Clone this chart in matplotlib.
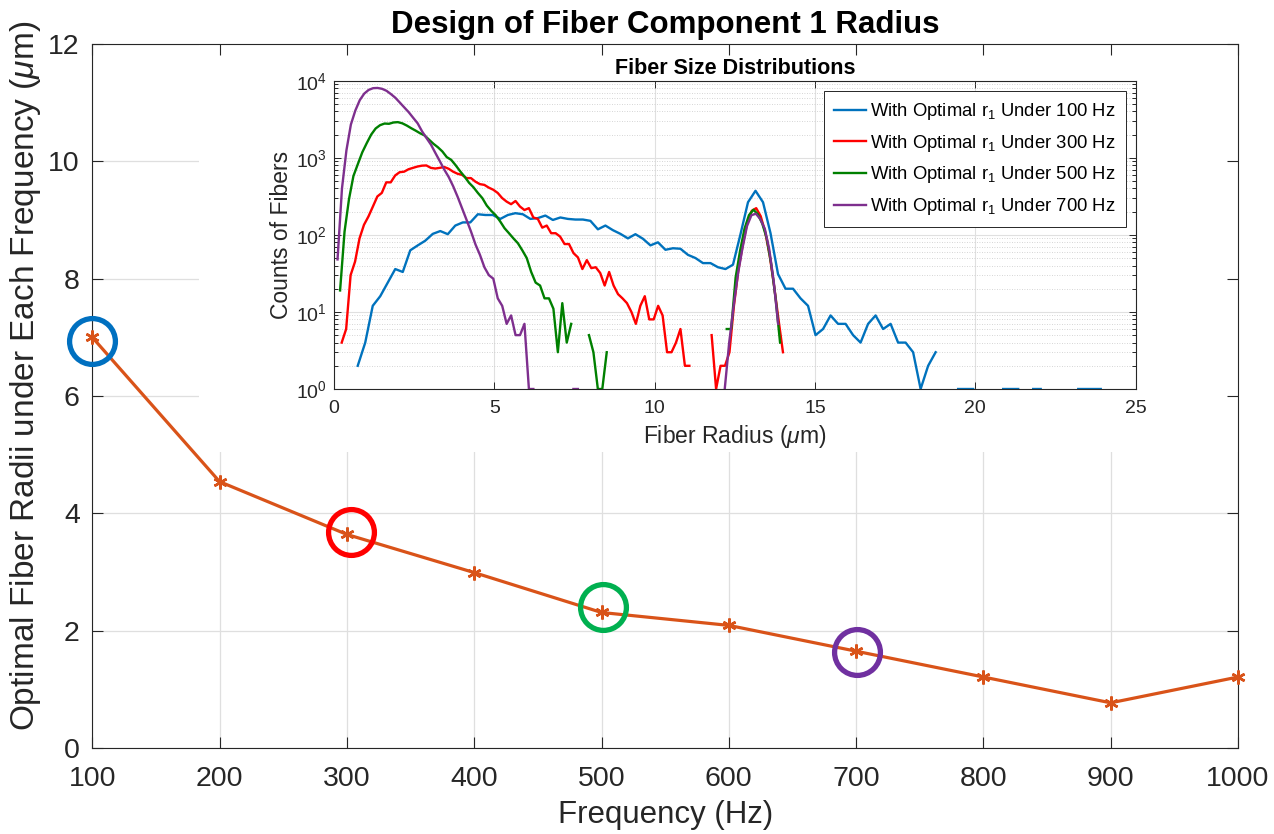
import numpy as np
import matplotlib
matplotlib.use("Agg")
import matplotlib.pyplot as plt
from matplotlib.ticker import LogLocator, NullFormatter

plt.rcParams['font.family'] = ['Liberation Sans', 'DejaVu Sans']
plt.rcParams['mathtext.fontset'] = 'custom'
plt.rcParams['mathtext.rm'] = 'Liberation Sans'
plt.rcParams['mathtext.it'] = 'Liberation Sans:italic'
plt.rcParams['mathtext.bf'] = 'Liberation Sans:bold'

# ---- main curve: optimal fiber radius for each design frequency ----
frequency_hz = [100, 200, 300, 400, 500, 600, 700, 800, 900, 1000]
optimal_radius_um = [7.0, 4.54, 3.64, 2.99, 2.31, 2.09, 1.65, 1.21, 0.77, 1.21]

# highlighted designs (rings drawn around them)
ring_freq = [100, 303, 501, 701]
ring_radius = [6.94, 3.69, 2.40, 1.63]
ring_colors = ['#0070C0', '#FF0000', '#00B050', '#7030A0']

# ---- inset: fiber size histograms (100 bins each, first/last bin centre in um) ----
range_100hz = (0.74, 23.91)
counts_100hz = [
    2, 4, 12, 16, 24, 36, 33, 63, 73, 84,
    103, 112, 102, 132, 145, 145, 185, 181, 181, 161,
    181, 191, 185, 161, 165, 178, 156, 168, 161, 158,
    158, 152, 118, 132, 115, 103, 90, 102, 89, 73,
    80, 64, 67, 66, 55, 50, 43, 43, 38, 36,
    41, 102, 265, 373, 265, 105, 31, 20, 20, 15,
    12, 5, 6, 9, 7, 7, 5, 4, 7, 9,
    6, 7, 4, 4, 3, 1, 2, 3, 0, 0,
    1, 1, 1, 0, 0, 0, 1, 1, 1, 0,
    1, 1, 0, 0, 0, 0, 1, 1, 1, 1,
]

range_300hz = (0.24, 14.0)
counts_300hz = [
    4, 6, 30, 45, 90, 135, 173, 233, 315, 350,
    480, 480, 590, 650, 660, 710, 740, 770, 790, 795,
    740, 725, 740, 760, 720, 660, 620, 600, 545, 545,
    490, 455, 445, 410, 385, 350, 300, 270, 250, 275,
    233, 210, 222, 168, 161, 124, 132, 105, 105, 95,
    76, 76, 58, 51, 36, 47, 37, 38, 32, 22,
    33, 22, 17, 15, 13, 10, 7, 12, 16, 8,
    8, 12, 9, 3, 3, 4, 6, 2, 2, 0,
    0, 0, 0, 5, 1, 2, 2, 3, 12, 35,
    75, 145, 205, 222, 175, 110, 55, 22, 8, 3,
]

range_500hz = (0.19, 13.91)
counts_500hz = [
    19, 110, 290, 580, 830, 1180, 1550, 2000, 2400, 2650,
    2780, 2760, 2870, 2900, 2800, 2620, 2420, 2250, 2080, 1950,
    1720, 1520, 1370, 1210, 1020, 940, 800, 670, 570, 475,
    415, 350, 300, 240, 205, 180, 150, 122, 105, 90,
    78, 63, 50, 33, 24, 22, 15, 15, 11, 3,
    13, 4, 7, 0, 0, 0, 5, 3, 1, 1,
    3, 0, 0, 0, 0, 0, 0, 0, 0, 0,
    0, 0, 0, 0, 0, 0, 0, 0, 0, 0,
    0, 0, 0, 0, 0, 0, 0, 6, 6, 28,
    62, 120, 180, 212, 185, 140, 90, 42, 15, 4,
]

range_700hz = (0.11, 13.85)
counts_700hz = [
    48, 400, 1250, 2700, 4100, 5600, 6800, 7600, 8000, 8050,
    7850, 7400, 6700, 6000, 5200, 4500, 3900, 3300, 2800, 2200,
    1800, 1480, 1150, 900, 700, 560, 425, 310, 220, 156,
    110, 75, 55, 38, 30, 27, 15, 12, 7, 9,
    5, 5, 7, 1, 1, 0, 0, 0, 0, 0,
    0, 0, 0, 1, 1, 0, 0, 0, 0, 0,
    0, 0, 0, 0, 0, 0, 0, 0, 0, 0,
    0, 0, 0, 0, 0, 0, 0, 0, 0, 0,
    0, 0, 0, 0, 0, 0, 0, 1, 4, 12,
    32, 68, 130, 180, 188, 160, 120, 65, 25, 7,
]

series = [
    (range_100hz, counts_100hz, '#0072BD', r'With Optimal r$_1$ Under 100 Hz'),
    (range_300hz, counts_300hz, '#FF0000', r'With Optimal r$_1$ Under 300 Hz'),
    (range_500hz, counts_500hz, '#008000', r'With Optimal r$_1$ Under 500 Hz'),
    (range_700hz, counts_700hz, '#7E2F8E', r'With Optimal r$_1$ Under 700 Hz'),
]

AX_COLOR = '#262626'
W, H = 1274, 834
fig = plt.figure(figsize=(W / 100, H / 100), dpi=100)


def px_rect(left, top, right, bottom):
    return [left / W, 1 - bottom / H, (right - left) / W, (bottom - top) / H]


main_rect = px_rect(92.3, 44, 1238, 748)

# grid layer of the main axes (sits beneath the inset backdrop)
ax_grid = fig.add_axes(main_rect, zorder=0)
ax_grid.set_xlim(100, 1000)
ax_grid.set_ylim(0, 12)
ax_grid.set_xticks(frequency_hz)
ax_grid.set_yticks(np.arange(0, 13, 2))
ax_grid.grid(True, color='#dfdfdf', lw=0.9)
ax_grid.tick_params(length=0, labelbottom=False, labelleft=False)
for s in ax_grid.spines.values():
    s.set_visible(False)

# white backdrop behind the inset
bg = fig.add_axes(px_rect(199, 44, 1238, 452), zorder=1)
bg.set_facecolor('white')
bg.set_xticks([])
bg.set_yticks([])
for s in bg.spines.values():
    s.set_visible(False)

# main axes
ax = fig.add_axes(main_rect, zorder=2)
ax.set_facecolor('none')
ax.plot(frequency_hz, optimal_radius_um, '-', marker=(6, 2, 0),
        color='#D95319', lw=2.3, ms=10, mew=1.8, zorder=3, clip_on=False)
for fx, fy, c in zip(ring_freq, ring_radius, ring_colors):
    ax.plot([fx], [fy], 'o', ms=33, mfc='none', mec=c, mew=3.8,
            clip_on=False, zorder=4)
ax.set_xlim(100, 1000)
ax.set_ylim(0, 12)
ax.set_xticks(frequency_hz)
ax.set_yticks(np.arange(0, 13, 2))
ax.tick_params(direction='in', length=8, width=0.8, top=True, right=True,
               labelsize=20.5, colors=AX_COLOR)
ax.tick_params(axis='x', pad=13)
ax.tick_params(axis='y', pad=9)
for s in ax.spines.values():
    s.set_color(AX_COLOR)
    s.set_linewidth(0.8)
ax.set_xlabel('Frequency (Hz)', fontsize=22.5, color=AX_COLOR, labelpad=6)
ax.set_ylabel(r'Optimal Fiber Radii under Each Frequency ($\mu$m)',
              fontsize=24, color=AX_COLOR)
ax.yaxis.set_label_coords(-0.043, 0.528)
ax.set_title('Design of Fiber Component 1 Radius', fontsize=22.5,
             fontweight='bold', color='black', pad=8)

# inset: fiber size distributions
axi = fig.add_axes(px_rect(334, 80.7, 1135.7, 389), zorder=3)
for (lo, hi), cnt, col, lab in series:
    r = np.linspace(lo, hi, len(cnt))
    n = np.asarray(cnt, dtype=float)
    n[n <= 0] = np.nan
    axi.plot(r, n, color=col, lw=1.7, label=lab)
axi.set_yscale('log')
axi.set_xlim(0, 25)
axi.set_ylim(1, 1e4)
axi.set_xticks([0, 5, 10, 15, 20, 25])
axi.yaxis.set_major_locator(LogLocator(base=10, numticks=10))
axi.yaxis.set_minor_locator(LogLocator(base=10, subs=np.arange(2, 10), numticks=50))
axi.yaxis.set_minor_formatter(NullFormatter())
axi.grid(True, which='major', color='#e0e0e0', lw=0.8)
axi.grid(True, which='minor', axis='y', color='#c8c8c8', lw=0.6, ls=(0, (1, 2)))
axi.set_axisbelow(True)
axi.tick_params(which='both', direction='in', top=True, right=True,
                colors=AX_COLOR, labelsize=14, width=0.7)
axi.tick_params(which='major', length=5)
axi.tick_params(axis='x', which='major', pad=8)
axi.tick_params(axis='y', which='major', pad=5)
axi.tick_params(which='minor', length=3)
for s in axi.spines.values():
    s.set_color(AX_COLOR)
    s.set_linewidth(0.8)
axi.set_xlabel(r'Fiber Radius ($\mu$m)', fontsize=16.5, color=AX_COLOR, labelpad=4)
axi.set_ylabel('Counts of Fibers', fontsize=16.5, color=AX_COLOR, labelpad=2)
axi.set_title('Fiber Size Distributions', fontsize=15.5, fontweight='bold',
              color='black', pad=5)
leg = axi.legend(loc='upper right', fontsize=13.3, frameon=True, fancybox=False,
                 edgecolor=AX_COLOR, framealpha=1, borderpad=0.55,
                 handlelength=1.75, handletextpad=0.2, labelspacing=0.58,
                 borderaxespad=0.55)
leg.get_frame().set_linewidth(0.7)

fig.savefig('out.png', dpi=100)
